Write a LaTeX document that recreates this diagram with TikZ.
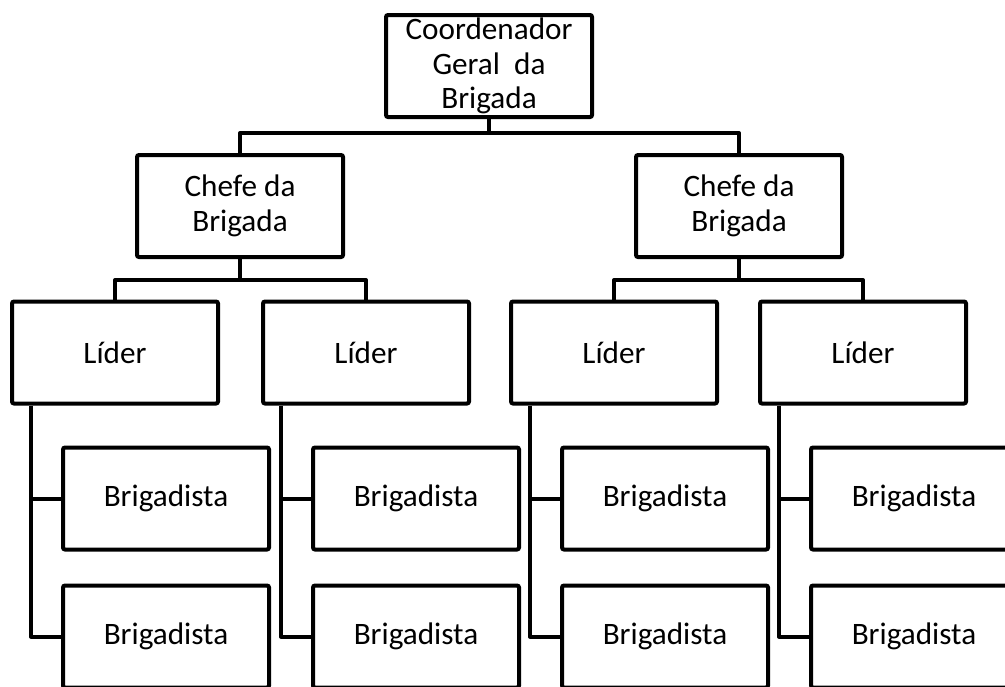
\documentclass[tikz,border=0pt]{standalone}
\usepackage{fontspec}
\setmainfont{Carlito}
\usepackage{tikz}

\begin{document}
\begin{tikzpicture}[x=0.5pt,y=-0.5pt,
    box/.style={draw, line width=2pt, rounded corners=1pt, align=center,
        font=\fontsize{15.6}{17.2}\selectfont, minimum width=103pt, minimum height=51pt, inner sep=0pt},
    link/.style={line width=2pt, line join=round}]
    \clip (0,0) rectangle (1005,686);
    \node[box] (coord) at (489,66) {Coordenador\\Geral~ da\\Brigada};
    \node[box] (chefeL) at (240,206) {Chefe da\\Brigada};
    \node[box] (chefeR) at (739,206) {Chefe da\\Brigada};
    \node[box] (liderA) at (115,352.5) {Líder};
    \node[box] (liderB) at (366,352.5) {Líder};
    \node[box] (liderC) at (614,352.5) {Líder};
    \node[box] (liderD) at (863,352.5) {Líder};
    \node[box] (brigA1) at (166,498.5) {Brigadista};
    \node[box] (brigA2) at (166,636.5) {Brigadista};
    \node[box] (brigB1) at (416,498.5) {Brigadista};
    \node[box] (brigB2) at (416,636.5) {Brigadista};
    \node[box] (brigC1) at (665,498.5) {Brigadista};
    \node[box] (brigC2) at (665,636.5) {Brigadista};
    \node[box] (brigD1) at (914,498.5) {Brigadista};
    \node[box] (brigD2) at (914,636.5) {Brigadista};
    \coordinate (busTop) at (489,133);
    \coordinate (busL) at (240,280);
    \coordinate (busR) at (739,280);
    \draw[link] (coord.south) -- (busTop) -| (chefeL.north);
    \draw[link] (busTop) -| (chefeR.north);
    \draw[link] (chefeL.south) -- (busL) -| (liderA.north);
    \draw[link] (busL) -| (liderB.north);
    \draw[link] (chefeR.south) -- (busR) -| (liderC.north);
    \draw[link] (busR) -| (liderD.north);
    \draw[link] ([xshift=10.5pt]liderA.south west) |- (brigA2.west);
    \draw[link] ([xshift=10.5pt]liderA.south west |- brigA1.west) -- (brigA1.west);
    \draw[link] ([xshift=10pt]liderB.south west) |- (brigB2.west);
    \draw[link] ([xshift=10pt]liderB.south west |- brigB1.west) -- (brigB1.west);
    \draw[link] ([xshift=10.5pt]liderC.south west) |- (brigC2.west);
    \draw[link] ([xshift=10.5pt]liderC.south west |- brigC1.west) -- (brigC1.west);
    \draw[link] ([xshift=10.5pt]liderD.south west) |- (brigD2.west);
    \draw[link] ([xshift=10.5pt]liderD.south west |- brigD1.west) -- (brigD1.west);
\end{tikzpicture}
\end{document}
